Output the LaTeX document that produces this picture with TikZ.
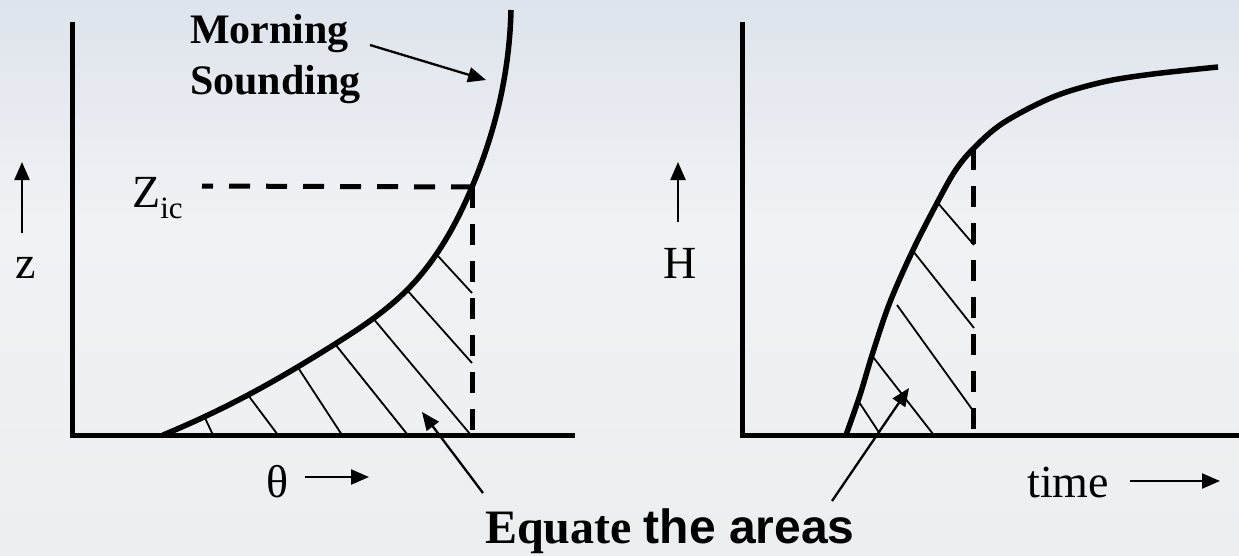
\documentclass[tikz,border=0pt]{standalone}
\usepackage{fontspec}
\setmainfont{Liberation Serif}
\newfontfamily\arialfont{Liberation Sans}
\usetikzlibrary{arrows.meta,hobby}
\definecolor{skytop}{RGB}{222,228,236}
\definecolor{skymid}{RGB}{240,242,245}
\definecolor{skybot}{RGB}{236,238,240}
\tikzset{
  axisline/.style={line width=5pt, line join=miter},
  curveline/.style={line width=5.5pt, line cap=butt},
  dashline/.style={line width=5pt, dash pattern=on 21pt off 16pt},
  hatchline/.style={line width=1.8pt},
  pointer/.style={line width=2.3pt, -{Triangle[length=18pt,width=15pt]}},
  lbl/.style={inner sep=0pt, font=\fontsize{46}{46}\selectfont},
  boldlbl/.style={inner sep=0pt, font=\fontsize{42}{42}\selectfont\bfseries},
}
\begin{document}
\begin{tikzpicture}[x=1pt,y=-1pt]
\useasboundingbox (0,0) rectangle (1239,555);
% background
\shade[top color=skytop, bottom color=skymid] (0,0) rectangle (1239,220);
\shade[top color=skymid, bottom color=skybot] (0,220) rectangle (1239,555);

% ---------- left panel ----------
\draw[axisline] (72,22) -- (72,435) -- (575,435);
\coordinate (zic) at (472,187);
\coordinate (lfoot) at (472,435);
\draw[curveline, use Hobby shortcut] (163,435) .. (248,395) .. (335,344) .. (407,290) .. (472,187) .. (500,100) .. (511,10);
\coordinate (zicend) at (202,186);
\draw[dashline] (zic) -- (zicend);
\draw[dashline] (zic) -- (lfoot);
% hatching
\draw[hatchline] (205,418) -- (213,435);
\draw[hatchline] (248,395) -- (278,435);
\draw[hatchline] (297,366) -- (342,435);
\draw[hatchline] (335,344) -- (407,434);
\draw[hatchline] (372,317) -- (470,434);
\draw[hatchline] (407,290) -- (472,363);
\draw[hatchline] (437,255) -- (472,293);

% labels left
\node[boldlbl, anchor=base west] (morning) at (190,43) {Morning};
\node[boldlbl, anchor=base west] (sounding) at (190,94) {Sounding};
\coordinate (mstart) at (370,45);
\coordinate (mtip) at (486,80);
\draw[pointer] (mstart) -- (mtip);

\node[lbl, anchor=base west] (zlabel) at (132,207) {Z\raisebox{-11pt}{\fontsize{31}{31}\selectfont ic}};

\coordinate (zarrowtail) at (22,233);
\coordinate (zarrowtip) at (22,162);
\draw[pointer] (zarrowtail) -- (zarrowtip);
\node[lbl, anchor=base] (zaxis) at (26,278) {z};

\node[lbl, anchor=base] (theta) at (278,497) {θ};
\coordinate (thtail) at (305,477);
\coordinate (thtip) at (369,477);
\draw[pointer] (thtail) -- (thtip);

% ---------- right panel ----------
\draw[axisline] (742,22) -- (742,435) -- (1239,435);
\coordinate (rtop) at (973,149);
\coordinate (rfoot) at (973,435);
\draw[curveline] plot[smooth, tension=0.55] coordinates
  {(846,435) (860,395) (873,352) (890,302) (913,250) (937,203) (955,171) (973,149) (1003,123) (1053,97) (1103,82) (1153,74) (1218,67)};
\draw[dashline] (rtop) -- (rfoot);
% hatching
\draw[hatchline] (937,202) -- (974,245);
\draw[hatchline] (913,251) -- (974,328);
\draw[hatchline] (897,305) -- (974,412);
\draw[hatchline] (873,357) -- (933,434);
\draw[hatchline] (859,402) -- (880,434);

\coordinate (harrowtail) at (678,222);
\coordinate (harrowtip) at (678,162);
\draw[pointer] (harrowtail) -- (harrowtip);
\node[lbl, anchor=base] (haxis) at (680,278) {H};

\node[lbl, anchor=base west] (time) at (1027,497) {time};
\coordinate (ttail) at (1130,481);
\coordinate (ttip) at (1220,481);
\draw[pointer] (ttail) -- (ttip);

% ---------- bottom label ----------
\node[inner sep=0pt, anchor=base west] (equate) at (485,543)
  {\fontsize{48}{48}\selectfont\bfseries Equate {\arialfont\bfseries the areas}};
\coordinate (eltail) at (483,493);
\coordinate (eltip) at (422,412);
\coordinate (ertail) at (832,501);
\coordinate (ertip) at (909,388);
\draw[pointer] (eltail) -- (eltip);
\draw[pointer] (ertail) -- (ertip);
\end{tikzpicture}
\end{document}
